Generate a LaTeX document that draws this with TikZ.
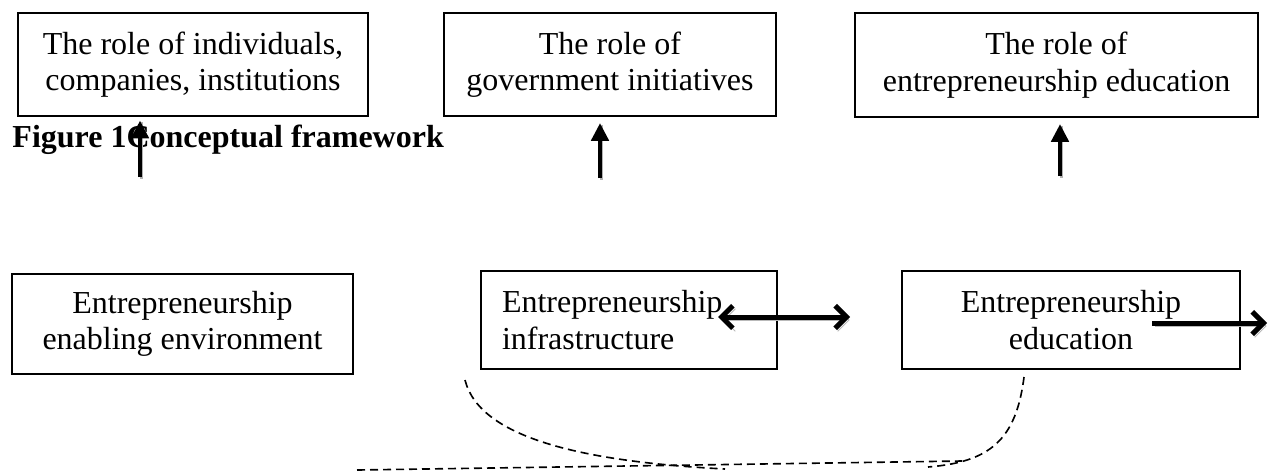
\documentclass[tikz,border=0pt]{standalone}
\usepackage{fontspec}
\setmainfont{Liberation Serif}
\usetikzlibrary{arrows.meta}
\tikzset{
	box/.style={draw,line width=0.8pt,align=center,inner sep=0pt,font=\fontsize{12.8}{14.6}\selectfont},
	uparr/.style={line width=1.3pt,-{Triangle[length=7pt,width=7pt]},
		preaction={draw=gray!60,line width=1.3pt,-,transform canvas={shift={(0.6pt,-0.6pt)}}}},
	sidearr/.style={line width=2pt,-{Straight Barb[length=4.5pt,width=9pt]},
		preaction={draw=gray!55,transform canvas={shift={(1pt,-1.2pt)}}}},
	link/.style={line width=0.65pt,dash pattern=on 3.2pt off 2pt},
}
\begin{document}
\begin{tikzpicture}[x=0.4pt,y=-0.4pt]
	\useasboundingbox (0,0) rectangle (1270,474);
	% top row
	\node[box,minimum width=140pt,minimum height=41.2pt] (r1) at (193,64.5) {The role of individuals,\\companies, institutions};
	\node[box,minimum width=132.8pt,minimum height=41.2pt] (r2) at (610,64.5) {The role of\\government initiatives};
	\node[box,minimum width=161.2pt,minimum height=41.6pt] (r3) at (1056.5,65) {The role of\\entrepreneurship education};
	\node[anchor=base west,inner sep=0pt,font=\fontsize{12.8}{14.6}\selectfont\bfseries] (cap) at (12,147) {Figure 1Conceptual framework};
	% bottom row
	\node[box,minimum width=136.4pt,minimum height=40pt] (e1) at (182.5,324) {Entrepreneurship\\enabling environment};
	\node[box,align=left,text width=101.6pt,inner xsep=8.4pt,minimum height=39.2pt] (e2) at (629,320) {Entrepreneurship\\infrastructure};
	\node[box,minimum width=135.2pt,minimum height=39.2pt] (e3) at (1071,320) {Entrepreneurship\\education};
	% arrows
	\coordinate (u1) at (140,177);
	\coordinate (u2) at (600,178);
	\coordinate (u3) at (1060,176);
	\draw[uparr,shorten >=1.5pt] (u1) -- (u1 |- r1.south);
	\draw[uparr,shorten >=2.5pt] (u2) -- (u2 |- r2.south);
	\draw[uparr,shorten >=2.5pt] (u3) -- (u3 |- r3.south);
	\coordinate (d1) at (718,317);
	\coordinate (d2) at (850,317);
	\draw[sidearr,{Straight Barb[length=4.5pt,width=9pt]}-{Straight Barb[length=4.5pt,width=9pt]}] (d1) -- (d2);
	\coordinate (o1) at (1152,323);
	\coordinate (o2) at (1267,323);
	\draw[sidearr] (o1) -- (o2);
	% dashed links
	\coordinate (l1) at (357,470);
	\coordinate (l2) at (962,461);
	\coordinate (a1) at (465,380);
	\coordinate (a2) at (725,469);
	\coordinate (c1) at (1024,377);
	\coordinate (c2) at (928,467);
	\draw[link] (l1) -- (l2);
	\draw[link] (a1) .. controls (480,440) and (590,462) .. (a2);
	\draw[link] (c1) .. controls (1016,440) and (990,462) .. (c2);
\end{tikzpicture}
\end{document}
